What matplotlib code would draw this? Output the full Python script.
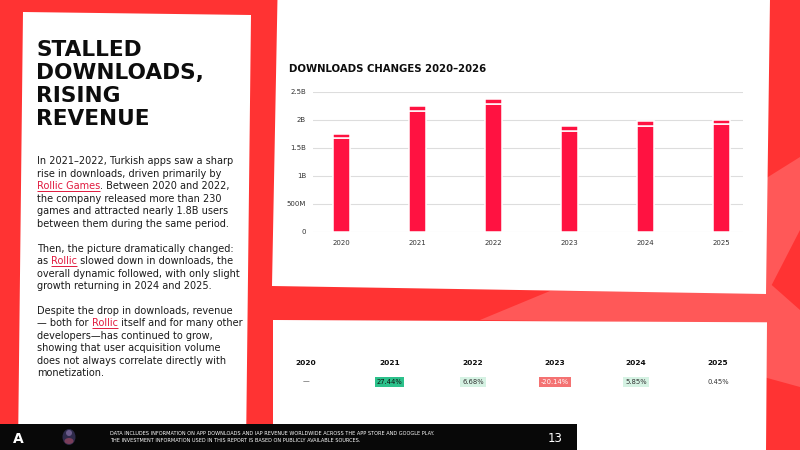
import matplotlib
matplotlib.use('Agg')
import matplotlib.pyplot as plt
from matplotlib.patches import Polygon, Rectangle, Ellipse
from matplotlib.font_manager import FontProperties

# ---------------- data ----------------
years = ['2020', '2021', '2022', '2023', '2024', '2025']
downloads_main = [1.68, 2.16, 2.29, 1.81, 1.90, 1.92]      # billions
downloads_top = [0.075, 0.085, 0.09, 0.08, 0.08, 0.085]    # billions
ytick_vals = [0, 0.5, 1, 1.5, 2, 2.5]
ytick_labels = ['0', '500M', '1B', '1.5B', '2B', '2.5B']

table_years = ['2020', '2021', '2022', '2023', '2024', '2025']
table_changes = ['—', '27.44%', '6.68%', '-20.14%', '5.85%', '0.45%']
table_fill = [None, '#2CC18B', '#D5F2E3', '#F47272', '#D5F2E3', None]
table_textcol = ['#333333', '#111111', '#333333', '#FFFFFF', '#333333', '#333333']

title_lines = ['STALLED', 'DOWNLOADS,', 'RISING', 'REVENUE']
body_paras = [
    [[('In 2021–2022, Turkish apps saw a sharp', False)],
     [('rise in downloads, driven primarily by', False)],
     [('Rollic Games', True), ('. Between 2020 and 2022,', False)],
     [('the company released more than 230', False)],
     [('games and attracted nearly 1.8B users', False)],
     [('between them during the same period.', False)]],
    [[('Then, the picture dramatically changed:', False)],
     [('as ', False), ('Rollic', True), (' slowed down in downloads, the', False)],
     [('overall dynamic followed, with only slight', False)],
     [('growth returning in 2024 and 2025.', False)]],
    [[('Despite the drop in downloads, revenue', False)],
     [('— both for ', False), ('Rollic', True), (' itself and for many other', False)],
     [('developers—has continued to grow,', False)],
     [('showing that user acquisition volume', False)],
     [('does not always correlate directly with', False)],
     [('monetization.', False)]],
]
chart_title = 'DOWNLOADS CHANGES 2020–2026'
footer_lines = ['DATA INCLUDES INFORMATION ON APP DOWNLOADS AND IAP REVENUE WORLDWIDE ACROSS THE APP STORE AND GOOGLE PLAY.',
                'THE INVESTMENT INFORMATION USED IN THIS REPORT IS BASED ON PUBLICLY AVAILABLE SOURCES.']
page_number = '13'

# ---------------- style ----------------
RED = '#FF3333'
RED_LIGHT = '#FF5858'
BAR = '#FF1241'
LINK = '#E01A3E'
INK = '#0D0D0D'
FONT = 'DejaVu Sans'

fig = plt.figure(figsize=(8, 4.5), dpi=100)
fig.patch.set_facecolor(RED)

bg = fig.add_axes([0, 0, 1, 1])
bg.set_xlim(0, 800)
bg.set_ylim(450, 0)
bg.axis('off')

# background light shapes
bg.add_patch(Polygon([(480, 320), (550, 291), (775, 292), (775, 324)], closed=True, fc=RED_LIGHT, ec='none'))
bg.add_patch(Polygon([(760, 182), (800, 157), (800, 230), (771.7, 285), (800, 310), (800, 387), (760, 376)],
                     closed=True, fc=RED_LIGHT, ec='none'))

# white cards
bg.add_patch(Polygon([(23, 12), (251, 15), (246, 450), (18, 450)], closed=True, fc='white', ec='none'))
bg.add_patch(Polygon([(277.5, -2), (770, -2), (766, 294), (272, 286)], closed=True, fc='white', ec='none'))
bg.add_patch(Polygon([(273, 320), (767, 322.3), (766, 452), (273, 452)], closed=True, fc='white', ec='none'))

# footer
bg.add_patch(Rectangle((0, 424), 577, 27, fc='#080808', ec='none'))

# title
for i, line in enumerate(title_lines):
    bg.text(36.5, 56 + i * 23, line, fontsize=15.6, fontweight='bold', family=FONT,
            color=INK, ha='left', va='baseline')

# body text with underlined links
fig.canvas.draw()
renderer = fig.canvas.get_renderer()
body_fp = FontProperties(family=FONT, size=7)


def tw(s):
    return renderer.get_text_width_height_descent(s, body_fp, ismath=False)[0]


def adv(s):
    return tw(s + '|') - tw('|')


LINE_H = 12.47
para_start = [164.3, 251.6, 314.0]
for p, para in enumerate(body_paras):
    for li, pieces in enumerate(para):
        y = para_start[p] + li * LINE_H
        x = 37
        for txt, is_link in pieces:
            col = LINK if is_link else '#1A1A1A'
            bg.text(x, y, txt, fontproperties=body_fp, color=col, ha='left', va='baseline')
            w = adv(txt)
            if is_link:
                bg.plot([x, x + tw(txt)], [y + 1.6, y + 1.6], color=LINK, lw=0.7, solid_capstyle='butt')
            x += w

# chart title
bg.text(289, 71.7, chart_title, fontsize=7.3, fontweight='bold', family=FONT,
        color=INK, ha='left', va='baseline')

# ---------------- bar chart ----------------
ax = fig.add_axes([313 / 800, (450 - 232) / 450, 430 / 800, 140 / 450])
ax.set_facecolor('none')
xs = list(range(len(years)))
ax.bar(xs, downloads_main, width=0.22, color=BAR, edgecolor='white', linewidth=1.1, zorder=3)
ax.bar(xs, downloads_top, bottom=downloads_main, width=0.22, color=BAR, edgecolor='white',
       linewidth=1.1, zorder=3)
ax.set_xlim(-0.378, 5.287)
ax.set_ylim(0, 2.5)
ax.set_yticks(ytick_vals)
ax.set_yticklabels(ytick_labels)
ax.set_xticks(xs)
ax.set_xticklabels(years)
ax.grid(axis='y', color='#DDDDDD', linewidth=0.8, zorder=0)
ax.set_axisbelow(True)
for s in ax.spines.values():
    s.set_visible(False)
ax.tick_params(axis='both', length=0, labelsize=5, labelcolor='#333333')
ax.tick_params(axis='y', pad=5)
ax.tick_params(axis='x', pad=6)
for lab in ax.get_xticklabels() + ax.get_yticklabels():
    lab.set_family(FONT)

# ---------------- table ----------------
col_x = [306, 389.5, 473, 555, 636, 718]
for i, (yr, ch) in enumerate(zip(table_years, table_changes)):
    bg.text(col_x[i], 365.3, yr, fontsize=5.4, fontweight='bold', family=FONT,
            color=INK, ha='center', va='baseline')
    kw = {}
    if table_fill[i] is not None:
        kw['bbox'] = dict(boxstyle='square,pad=0.3', fc=table_fill[i], ec='none')
    bg.text(col_x[i], 381.7, ch, fontsize=4.9, family=FONT, color=table_textcol[i],
            ha='center', va='center', **kw)

# ---------------- footer ----------------
bg.text(12.5, 442.7, 'A', fontsize=10, fontweight='bold', family=FONT, color='white',
        ha='left', va='baseline')
bg.add_patch(Ellipse((69, 437), 13, 16, fc='#2E2A4A', ec='none'))
bg.add_patch(Ellipse((69, 433), 6, 6, fc='#6A5A8A', ec='none'))
bg.add_patch(Ellipse((69, 441), 9, 6, fc='#7A3E5A', ec='none'))
for i, line in enumerate(footer_lines):
    bg.text(110.5, 435.4 + i * 7, line, fontsize=3.6, family=FONT, color='white',
            ha='left', va='baseline')
bg.text(548, 441.7, page_number, fontsize=8.5, family=FONT, color='white',
        ha='left', va='baseline')

fig.savefig('out.png', dpi=100, facecolor=fig.get_facecolor())
